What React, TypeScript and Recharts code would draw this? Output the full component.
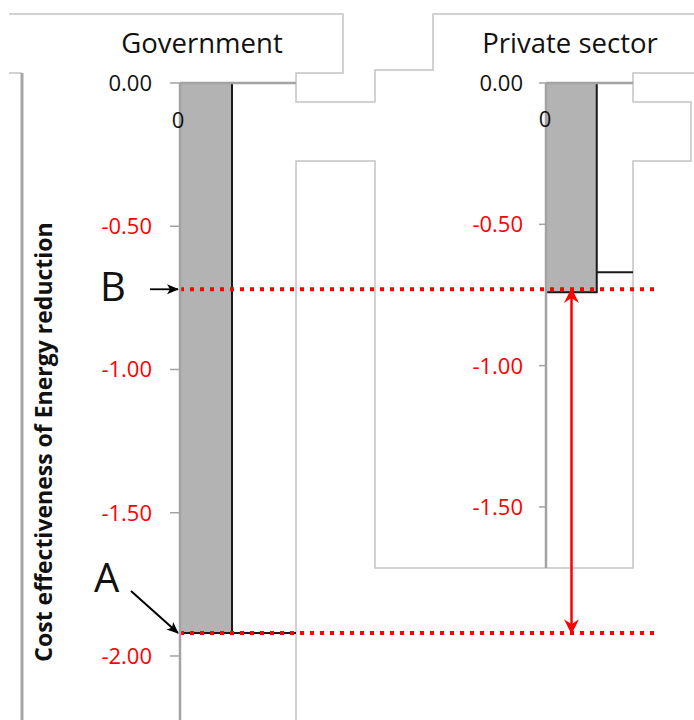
import { ComposedChart, Bar, XAxis, YAxis, ReferenceLine } from "recharts";

// values per panel: bar height and the level line drawn right of the bar
const panelTitles = ["Government", "Private sector"];
const costValues = [-1.92, -0.74];
const levelValues = [-1.92, -0.67];
const xTickLabels = ["0", "0"];
const govTicks = [0, -0.5, -1, -1.5, -2];
const privateTicks = [0, -0.5, -1, -1.5];
const pointA = -1.92;
const pointB = -0.72;
const yTitle = "Cost effectiveness of Energy reduction";

const W = 694;
const H = 720;
const FONT = '"Open Sans", sans-serif';
const AXIS_GREY = "#a3a3a3";
const FRAME_GREY = "#c4c4c4";
const RED = "#ff0000";
const INK = "#1a1a1a";

// plot boxes in page pixels
const GOV = { left: 180, top: 83, right: 660, bottom: 720, yMin: -2.2235, barW: 52, stepEnd: 116, tickSize: 10, tickMargin: 18 };
const PRIV = { left: 546, top: 83, right: 633, bottom: 568, yMin: -1.716, barW: 51, stepEnd: 87, tickSize: 7, tickMargin: 16 };

type Box = typeof GOV;

// second row only widens the band so the bar keeps its full width
function buildRows(i: number, box: Box) {
  return [
    { x: box.barW / 2, cost: costValues[i] },
    { x: box.stepEnd, cost: null },
  ];
}

const arrowShape = (marker: string, color: string, width: number, both = false) => (p: any) => (
  <line
    x1={p.x1}
    y1={p.y1}
    x2={p.x2}
    y2={p.y2}
    stroke={color}
    strokeWidth={width}
    markerEnd={`url(#${marker})`}
    markerStart={both ? `url(#${marker})` : undefined}
  />
);

function Panel({ i, box, ticks, children }: { i: number; box: Box; ticks: number[]; children?: any }) {
  const plotW = box.right - box.left;
  return (
    <div style={{ position: "absolute", left: 0, top: 0 }}>
      <ComposedChart
        width={W}
        height={H}
        data={buildRows(i, box)}
        margin={{ top: box.top, right: W - box.right, bottom: H - box.bottom, left: 0 }}
      >
        <XAxis type="number" dataKey="x" domain={[0, plotW]} allowDataOverflow hide />
        <YAxis
          type="number"
          domain={[box.yMin, 0]}
          allowDataOverflow
          ticks={ticks}
          interval={0}
          width={box.left}
          tickSize={box.tickSize}
          tickMargin={box.tickMargin}
          axisLine={{ stroke: AXIS_GREY, strokeWidth: 2.5 }}
          tickLine={{ stroke: AXIS_GREY, strokeWidth: 1.5 }}
          tick={(p: any) => {
            const v = p.payload.value;
            return (
              <text x={p.x} y={p.y} dy={8} textAnchor="end" fontFamily={FONT} fontSize={22} fill={v === 0 ? "#111" : RED}>
                {v.toFixed(2)}
              </text>
            );
          }}
        />
        <Bar dataKey="cost" barSize={box.barW} fill="#b3b3b3" stroke={INK} strokeWidth={2} isAnimationActive={false} />
        <ReferenceLine
          segment={[{ x: box.barW, y: levelValues[i] }, { x: box.stepEnd, y: levelValues[i] }]}
          stroke={INK}
          strokeWidth={2}
        />
        <ReferenceLine segment={[{ x: 0, y: 0 }, { x: box.stepEnd, y: 0 }]} stroke={AXIS_GREY} strokeWidth={2.5} />
        {children}
      </ComposedChart>
    </div>
  );
}

export default function App() {
  const redArrowX = PRIV.left + PRIV.barW / 2 - GOV.left;
  return (
    <div style={{ position: "absolute", left: 0, top: 0, width: W, height: H, overflow: "hidden", background: "#fff", fontFamily: FONT }}>
      {/* chart frames left over from the two pasted charts */}
      <svg width={W} height={H} style={{ position: "absolute", left: 0, top: 0 }}>
        <defs>
          <marker id="redHead" viewBox="0 0 12 12" refX="11" refY="6" markerWidth="15" markerHeight="15" markerUnits="userSpaceOnUse" orient="auto-start-reverse">
            <path d="M0,0 L12,6 L0,12 L4,6 Z" fill={RED} />
          </marker>
          <marker id="blackHead" viewBox="0 0 12 12" refX="11" refY="6" markerWidth="12" markerHeight="12" markerUnits="userSpaceOnUse" orient="auto">
            <path d="M0,1 L12,6 L0,11 L3,6 Z" fill="#000" />
          </marker>
        </defs>
        <g fill="none" stroke={FRAME_GREY} strokeWidth={1.5}>
          <path d="M9,14 H343 V73 H296 V102 H375 V70 H433 V14 H694" />
          <path d="M694,73 H633 V102 H691 V161 H633 V568 H375 V161 H296 V720" />
          <path d="M9,73 H22" />
        </g>
        <path d="M22,73 V720" stroke="#a6a6a6" strokeWidth={3} />
      </svg>

      <Panel i={1} box={PRIV} ticks={privateTicks} />

      <Panel i={0} box={GOV} ticks={govTicks}>
        <ReferenceLine y={pointB} stroke={RED} strokeWidth={4} strokeDasharray="4 6" />
        <ReferenceLine y={pointA} stroke={RED} strokeWidth={4} strokeDasharray="4 6" />
        <ReferenceLine
          segment={[{ x: redArrowX, y: pointB }, { x: redArrowX, y: pointA }]}
          shape={arrowShape("redHead", RED, 2.5, true)}
        />
        <ReferenceLine
          segment={[{ x: -30, y: pointB }, { x: -2, y: pointB }]}
          ifOverflow="visible"
          shape={arrowShape("blackHead", "#000", 1.8)}
        />
        <ReferenceLine
          segment={[{ x: -49, y: pointA + 0.147 }, { x: -2, y: pointA }]}
          ifOverflow="visible"
          shape={arrowShape("blackHead", "#000", 2)}
        />
      </Panel>

      <svg width={W} height={H} style={{ position: "absolute", left: 0, top: 0, pointerEvents: "none" }}>
        <text x={202} y={53} textAnchor="middle" fontFamily={FONT} fontSize={27.5} fill="#111">
          {panelTitles[0]}
        </text>
        <text x={570} y={53} textAnchor="middle" fontFamily={FONT} fontSize={27.5} fill="#111">
          {panelTitles[1]}
        </text>
        <text x={GOV.left - 2} y={128} textAnchor="middle" fontFamily={FONT} fontSize={22} fill="#111">
          {xTickLabels[0]}
        </text>
        <text x={PRIV.left - 1} y={127} textAnchor="middle" fontFamily={FONT} fontSize={22} fill="#111">
          {xTickLabels[1]}
        </text>
        <text x={100} y={301} fontFamily={FONT} fontSize={40} fill="#111">B</text>
        <text x={94} y={592} fontFamily={FONT} fontSize={40} fill="#111">A</text>
        <text
          transform="translate(52,442) rotate(-90)"
          textAnchor="middle"
          fontFamily={FONT}
          fontWeight="bold"
          fontSize={23}
          fill="#111"
        >
          {yTitle}
        </text>
      </svg>
    </div>
  );
}
